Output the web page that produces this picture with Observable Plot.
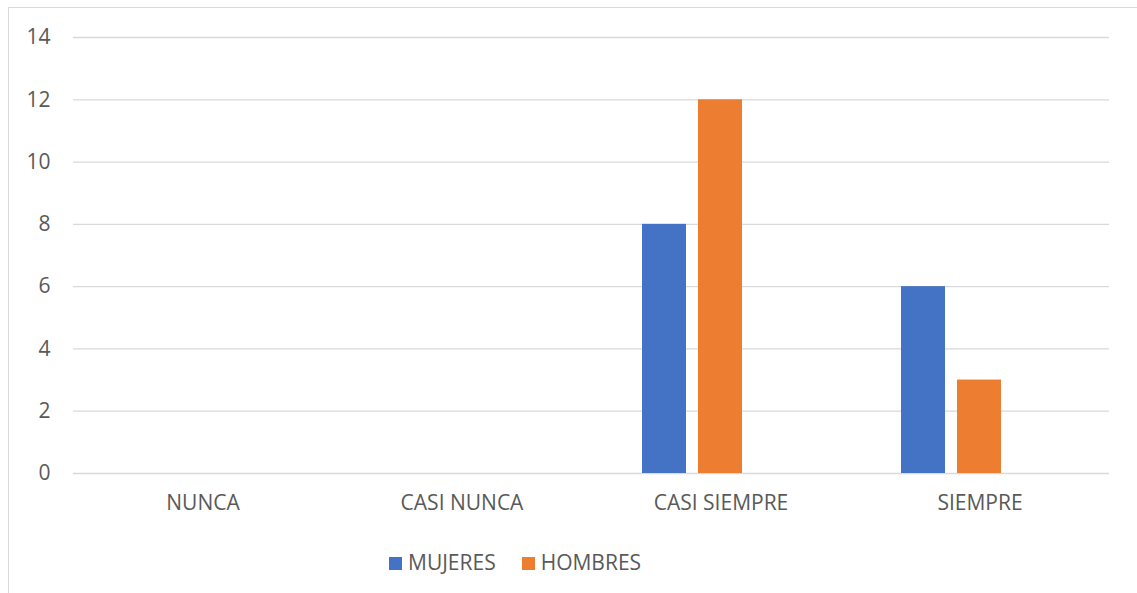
<!DOCTYPE html>
<html><head><meta charset="utf-8">
<script src="https://cdn.jsdelivr.net/npm/d3@7"></script>
<script src="https://cdn.jsdelivr.net/npm/@observablehq/plot@0.6"></script>
<style>
html,body{margin:0;background:#fff;font-family:"Open Sans",sans-serif;overflow:hidden;width:1137px;height:593px;}
#frame{position:absolute;left:8px;top:7px;width:1200px;height:700px;border:1px solid #d9d9d9;box-sizing:border-box;}
#clip{position:absolute;left:0;top:0;width:1137px;height:593px;overflow:hidden;}
#chart{position:absolute;left:0;top:0;}
#legend{position:absolute;left:389px;top:548px;display:flex;align-items:center;font-size:21px;color:#595959;white-space:nowrap;}
.item{display:flex;align-items:center;margin-right:26px;}
.sw{width:13px;height:13px;margin-right:6px;margin-top:3px;}
</style>
</head><body>
<div id="clip"><div id="frame"></div></div>
<div id="chart"></div>
<div id="legend"></div>
<script>
const categories = ["NUNCA", "CASI NUNCA", "CASI SIEMPRE", "SIEMPRE"];
const series = ["MUJERES", "HOMBRES"];
const mujeres = [0, 0, 8, 6];
const hombres = [0, 0, 12, 3];
const colors = ["#4472C4", "#ED7D31"];
const yTicks = [0, 2, 4, 6, 8, 10, 12, 14];

const data = [];
categories.forEach((c, i) => {
  data.push({cat: c, ser: series[0], v: mujeres[i]});
  data.push({cat: c, ser: series[1], v: hombres[i]});
});

const chart = Plot.plot({
  width: 1137,
  height: 530,
  marginTop: 37,
  marginBottom: 57,
  marginLeft: 72,
  marginRight: 27,
  style: {fontSize: "21px", fontFamily: "Open Sans", color: "#595959", background: "transparent"},
  fx: {domain: categories, padding: 0, label: null, axis: "bottom", tickSize: 0, tickPadding: 22},
  x: {domain: [...series, "\u200b"], axis: null, paddingInner: 12/57, paddingOuter: 0.8816},
  y: {domain: [0, 14], ticks: yTicks, label: null, tickSize: 0, tickPadding: 23},
  color: {domain: series, range: colors},
  marks: [
    Plot.gridY(yTicks, {stroke: "#d9d9d9", strokeOpacity: 1, strokeWidth: 1.3}),
    Plot.axisY(yTicks, {tickSize: 0, tickPadding: 23, label: null, fill: "#595959"}),
    Plot.barY(data, {fx: "cat", x: "ser", y: "v", fill: "ser"})
  ]
});
document.getElementById("chart").appendChild(chart);

const legend = document.getElementById("legend");
series.forEach((s, i) => {
  const it = document.createElement("div");
  it.className = "item";
  it.innerHTML = `<span class="sw" style="background:${colors[i]}"></span><span>${s}</span>`;
  legend.appendChild(it);
});
</script>
</body></html>
